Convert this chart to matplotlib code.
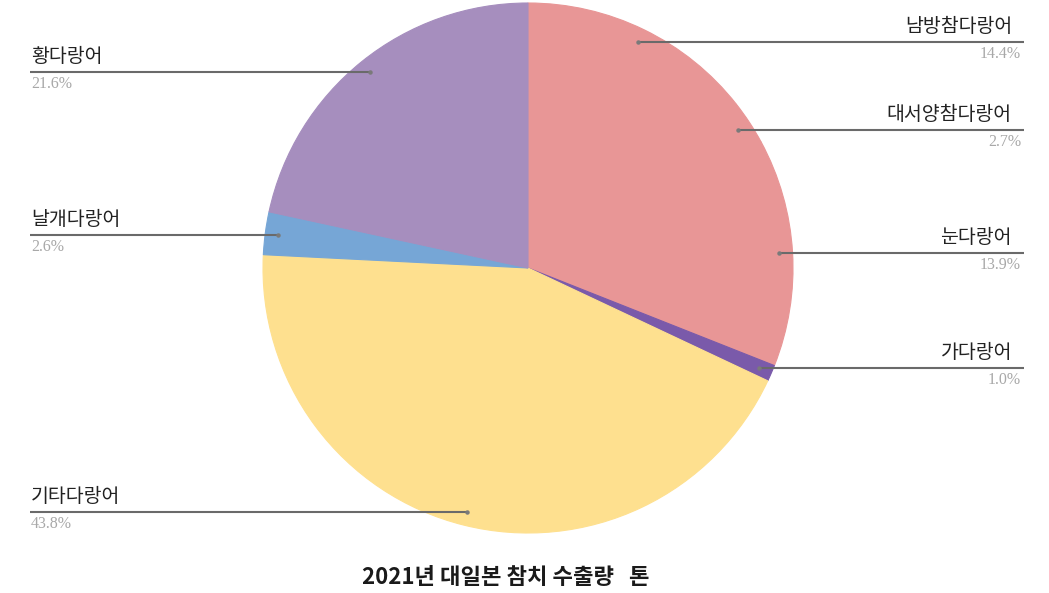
import numpy as np
import matplotlib.pyplot as plt

plt.rcParams['font.family'] = ['Noto Sans CJK KR', 'DejaVu Sans']

names = ['남방참다랑어', '대서양참다랑어', '눈다랑어', '가다랑어', '기타다랑어', '날개다랑어', '황다랑어']
shares = [14.4, 2.7, 13.9, 1.0, 43.8, 2.6, 21.6]
colors = ['#E89696', '#E89696', '#E89696', '#7A5AAA', '#FEE08F', '#76A6D6', '#A68EBE']
title = '2021년 대일본 참치 수출량   톤'

W, H = 1049, 593
fig = plt.figure(figsize=(W / 100, H / 100), dpi=100)
ax = fig.add_axes([0, 0, 1, 1])

cx, cy, R = 528, H - 268, 265
wedges, _ = ax.pie(shares, colors=colors, startangle=90, counterclock=False,
                   center=(cx, cy), radius=R, frame=True)
for w, c in zip(wedges, colors):
    w.set_edgecolor(c)
    w.set_linewidth(0.8)
ax.set_xlim(0, W)
ax.set_ylim(0, H)
ax.set_aspect('equal')
ax.axis('off')

# leader lines: from 0.95R at mid-angle of each slice to the text column
for w, name, s in zip(wedges, names, shares):
    mid = np.deg2rad((w.theta1 + w.theta2) / 2)
    px = cx + 0.95 * R * np.cos(mid)
    py = cy + 0.95 * R * np.sin(mid)
    if px >= cx:
        x_end, ha, tx, tp = 1024, 'right', 1012, 1021
    else:
        x_end, ha, tx, tp = 30, 'left', 31, 31
    ax.plot([px, x_end], [py, py], color='#6a6a6a', lw=1.5, solid_capstyle='butt')
    ax.plot(px, py, 'o', ms=2.2, color='#7a7a7a')
    ax.text(tx, py + 5, name, ha=ha, va='bottom', fontsize=14, color='#222222')
    ax.text(tp, py - 4, f'{s:.1f}%', ha=ha, va='top',
            fontsize=11.5, color='#A8A8A8', family='Liberation Serif')

ax.text(cx - 22, H - 578, title, ha='center', va='center', fontsize=16,
        fontweight='bold', color='#1a1a1a')

fig.savefig('out.png', dpi=100, facecolor='white')
